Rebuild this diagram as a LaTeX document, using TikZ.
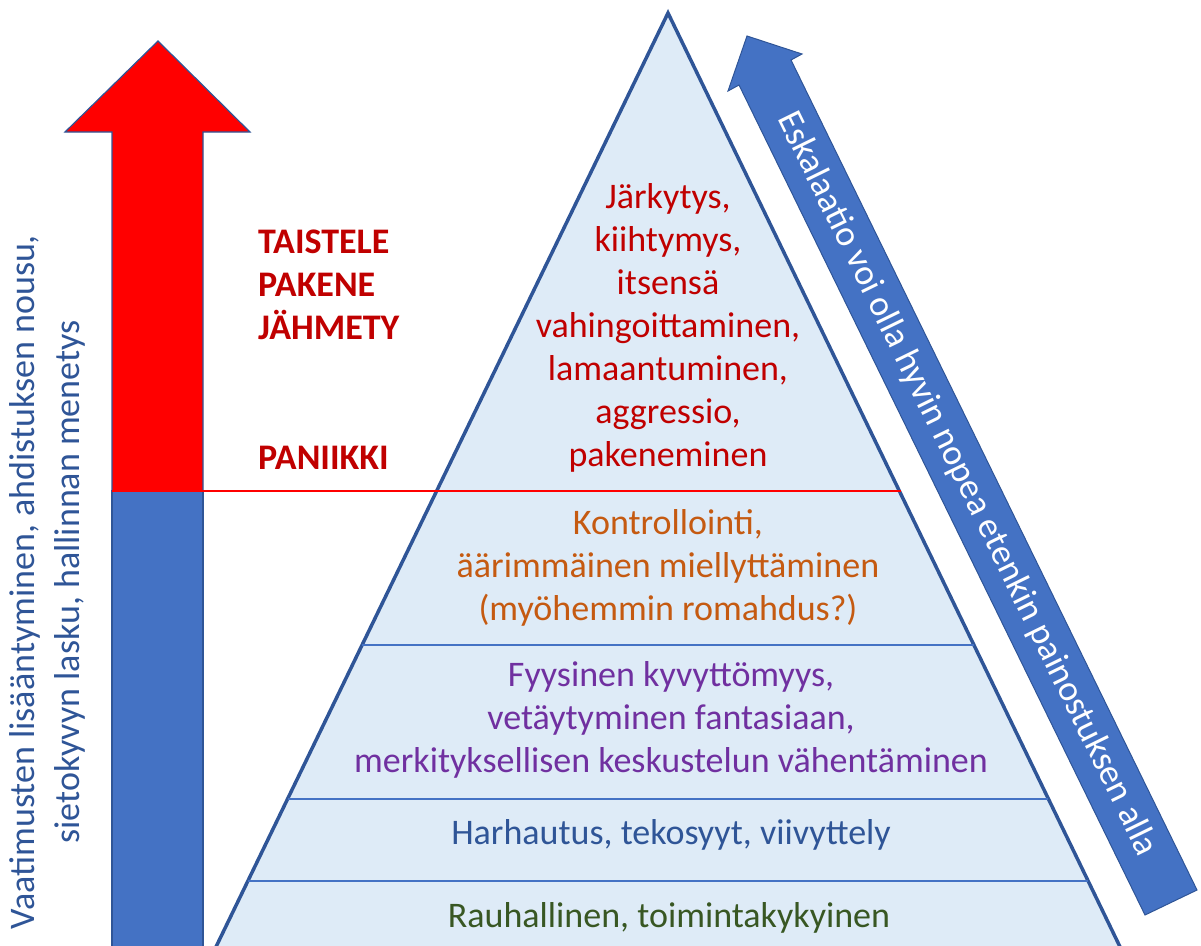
\documentclass[tikz,border=0pt]{standalone}
\usepackage{fontspec}
\setmainfont{Carlito}
\usetikzlibrary{calc}
\definecolor{pyrfill}{RGB}{222,235,247}
\definecolor{pyrline}{RGB}{47,85,151}
\definecolor{tierline}{RGB}{68,114,196}
\definecolor{accblue}{RGB}{68,114,196}
\definecolor{darkred}{RGB}{192,0,0}
\definecolor{puna}{RGB}{255,0,0}
\definecolor{orangetxt}{RGB}{197,90,17}
\definecolor{purpletxt}{RGB}{112,48,160}
\definecolor{bluetxt}{RGB}{47,85,151}
\definecolor{greentxt}{RGB}{56,87,35}
\begin{document}
\begin{tikzpicture}[x=1pt,y=-1pt,
  txt/.style={font=\fontsize{36}{43}\selectfont, align=center, inner sep=0pt},
  boldlbl/.style={font=\fontsize{36}{43}\selectfont\bfseries, text=darkred, align=left, inner sep=0pt, anchor=west},
  tier/.style={draw=tierline, line width=2.2pt},
  outline/.style={draw=pyrline, line width=1.2pt}]
\useasboundingbox (0,0) rectangle (1201,945);
\clip (0,0) rectangle (1201,945);

% pyramid
\coordinate (apex) at (668,13);
\coordinate (bl) at (207.2,965);
\coordinate (br) at (1128.8,965);
\filldraw[fill=pyrfill, draw=pyrline, line width=3.5pt, line join=miter] (apex) -- (bl) -- (br) -- cycle;

% tier lines
\coordinate (l1) at (362.1,645);  \coordinate (r1) at (973.9,645);
\coordinate (l2) at (287.6,799);  \coordinate (r2) at (1048.4,799);
\coordinate (l3) at (247.9,881);  \coordinate (r3) at (1088.1,881);
\draw[tier] (l1) -- (r1);
\draw[tier] (l2) -- (r2);
\draw[tier] (l3) -- (r3);

% left arrow: blue lower part, red upper part
\filldraw[fill=accblue, outline] (112,491) rectangle (203,960);
\filldraw[fill=puna, outline, line join=miter]
  (158,41) -- (250,132) -- (203,132) -- (203,491) -- (112,491) -- (112,132) -- (65,132) -- cycle;

% red panic line
\coordinate (panicL) at (112,491);
\coordinate (panicR) at (901,491);
\draw[puna, line width=2.6pt] (panicL) -- (panicR);

% escalation arrow
\filldraw[fill=accblue, draw=pyrline, line width=1pt, line join=miter]
  (747,36) -- (802,54) -- (791,60) -- (1197,890) -- (1145,915) -- (739,85) -- (728,91) -- cycle;
\node[txt, text=white, rotate=-63.9] (esk) at (967,484)
  {Eskalaatio voi olla hyvin nopea etenkin painostuksen alla};

% pyramid texts
\node[txt, text=darkred] (t1) at (668,328)
  {Järkytys,\\kiihtymys,\\itsensä\\vahingoittaminen,\\lamaantuminen,\\aggressio,\\pakeneminen};
\node[txt, text=orangetxt] (t2) at (668,568)
  {Kontrollointi,\\äärimmäinen miellyttäminen\\(myöhemmin romahdus?)};
\node[txt, text=purpletxt] (t3) at (671,720)
  {Fyysinen kyvyttömyys,\\vetäytyminen fantasiaan,\\merkityksellisen keskustelun vähentäminen};
\node[txt, text=bluetxt] (t4) at (671,835) {Harhautus, tekosyyt, viivyttely};
\node[txt, text=greentxt] (t5) at (669,918) {Rauhallinen, toimintakykyinen};

% left labels
\node[boldlbl] (fff) at (258,285) {TAISTELE\\PAKENE\\JÄHMETY};
\node[boldlbl] (pan) at (258,458) {PANIIKKI};

% vertical text
\node[txt, text=bluetxt, rotate=90, font=\fontsize{36}{45}\selectfont] (vaat) at (47,582)
  {Vaatimusten lisääntyminen, ahdistuksen nousu,\\sietokyvyn lasku, hallinnan menetys};
\end{tikzpicture}
\end{document}
